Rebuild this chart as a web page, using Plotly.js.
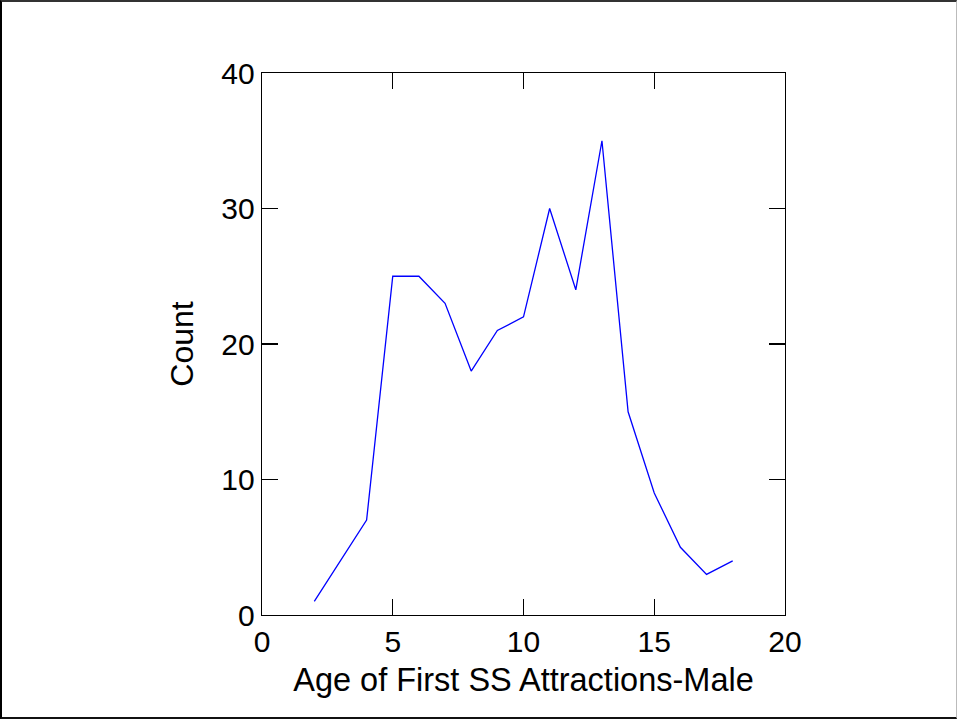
<!DOCTYPE html>
<html><head><meta charset="utf-8">
<script src="https://cdn.plot.ly/plotly-3.0.1.min.js"></script>
<style>
html,body{margin:0;padding:0;background:#fff;}
#frame{position:absolute;left:0;top:0;width:957px;height:719px;box-sizing:border-box;border-left:2px solid #000;border-top:2px solid #333;border-bottom:2px solid #111;border-right:1px solid #bbb;}
#chart{position:absolute;left:0;top:0;width:957px;height:719px;}
</style></head>
<body>
<div id="chart"></div>
<div id="frame"></div>
<script>
const ages = [2,3,4,5,6,7,8,9,10,11,12,13,14,15,16,17,18];
const counts = [1,4,7,25,25,23,18,21,22,30,24,35,15,9,5,3,4];
const xTicks = [0,5,10,15,20];
const yTicks = [0,10,20,30,40];

const axisCommon = {
  showgrid:false, zeroline:false, showline:true, linecolor:'#000', linewidth:1.3,
  mirror:'ticks', ticks:'inside', ticklen:16, tickwidth:1.3, tickcolor:'#000',
  tickfont:{family:'Liberation Sans, Arial, sans-serif', size:30, color:'#000'}
};
Plotly.newPlot('chart', [{
  x: ages, y: counts, type:'scatter', mode:'lines',
  line:{color:'#0000ff', width:1.3}
}], {
  width:957, height:719,
  margin:{l:262, r:172, t:73, b:104, pad:0},
  paper_bgcolor:'#fff', plot_bgcolor:'#fff',
  showlegend:false,
  xaxis: Object.assign({}, axisCommon, {
    range:[0,20], tickvals:xTicks, ticktext:xTicks.map(String),
    title:{text:'Age of First SS Attractions-Male', font:{family:'Liberation Sans, Arial, sans-serif', size:32.5, color:'#000'}, standoff:11}
  }),
  yaxis: Object.assign({}, axisCommon, {
    range:[0,40], tickvals:yTicks, ticktext:yTicks.map(String),
    title:{text:'Count', font:{family:'Liberation Sans, Arial, sans-serif', size:32, color:'#000'}, standoff:18}
  })
}, {staticPlot:true, displayModeBar:false});
</script>
</body></html>
